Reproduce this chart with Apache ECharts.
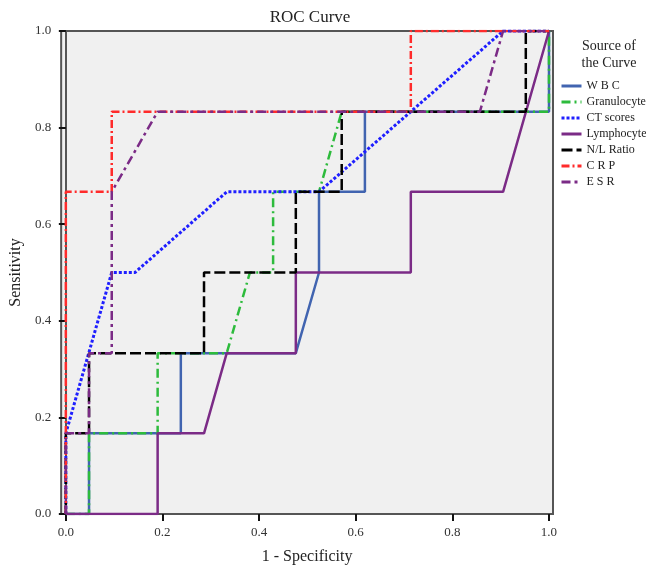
<!DOCTYPE html>
<html>
<head>
<meta charset="utf-8">
<script src="https://cdn.jsdelivr.net/npm/echarts@6/dist/echarts.min.js"></script>
<style>
  html, body { margin: 0; padding: 0; background: #ffffff; }
  #chart { width: 646px; height: 570px; }
</style>
</head>
<body>
<div id="chart"></div>
<script>
// points of each ROC curve, [1 - specificity, sensitivity]
const wbc = [[0,0],[0.048,0],[0.048,0.167],[0.238,0.167],[0.238,0.333],[0.476,0.333],[0.524,0.5],[0.524,0.667],[0.619,0.667],[0.619,0.833],[1,0.833],[1,1]];
const granulocyte = [[0,0],[0.048,0],[0.048,0.167],[0.190,0.167],[0.190,0.333],[0.333,0.333],[0.381,0.5],[0.429,0.5],[0.429,0.667],[0.524,0.667],[0.571,0.833],[1,0.833],[1,1]];
const ctScores = [[0,0],[0,0.167],[0.095,0.5],[0.143,0.5],[0.333,0.667],[0.524,0.667],[0.905,1],[1,1]];
const lymphocyte = [[0,0],[0.190,0],[0.190,0.167],[0.286,0.167],[0.333,0.333],[0.476,0.333],[0.476,0.5],[0.714,0.5],[0.714,0.667],[0.905,0.667],[1,1]];
const nlRatio = [[0,0],[0,0.167],[0.048,0.167],[0.048,0.333],[0.286,0.333],[0.286,0.5],[0.476,0.5],[0.476,0.667],[0.571,0.667],[0.571,0.833],[0.952,0.833],[0.952,1],[1,1]];
const crp = [[0,0],[0,0.667],[0.095,0.667],[0.095,0.833],[0.714,0.833],[0.714,1],[1,1]];
const esr = [[0,0],[0,0.167],[0.048,0.167],[0.048,0.333],[0.095,0.333],[0.095,0.667],[0.190,0.833],[0.857,0.833],[0.905,1],[1,1]];

const seriesNames = ['W B C', 'Granulocyte', 'CT scores', 'Lymphocyte', 'N/L Ratio', 'C R P', 'E S R'];
const tickValues = [0, 0.2, 0.4, 0.6, 0.8, 1.0];

const serif = '"Liberation Serif", "DejaVu Serif", serif';

function line(name, data, color, type, width) {
  return {
    name: name,
    type: 'line',
    data: data,
    showSymbol: false,
    symbol: 'none',
    animation: false,
    lineStyle: { color: color, type: type, width: width, cap: 'butt' },
    itemStyle: { color: color }
  };
}

const chart = echarts.init(document.getElementById('chart'));
chart.setOption({
  backgroundColor: '#ffffff',
  title: [
    {
      text: 'ROC Curve',
      left: 305, top: 4, textAlign: 'center',
      textStyle: { fontFamily: serif, fontSize: 17, fontWeight: 'normal', color: '#222' }
    },
    {
      text: 'Source of\nthe Curve',
      left: 604, top: 33, textAlign: 'center',
      textStyle: { fontFamily: serif, fontSize: 14, fontWeight: 'normal', color: '#222', lineHeight: 17 }
    }
  ],
  legend: {
    orient: 'vertical',
    left: 555, top: 75,
    itemWidth: 20, itemHeight: 10, itemGap: 4,
    data: seriesNames,
    itemStyle: { opacity: 0 },
    lineStyle: { width: 3 },
    textStyle: { fontFamily: serif, fontSize: 12, color: '#222', lineHeight: 12 }
  },
  grid: {
    left: 58, right: 93, top: 31, bottom: 53,
    show: true, backgroundColor: '#f0f0f0', borderColor: '#555', borderWidth: 2
  },
  xAxis: {
    type: 'value', min: -0.0097, max: 1.0083,
    name: '1 - Specificity', nameLocation: 'middle', nameGap: 35,
    nameTextStyle: { fontFamily: serif, fontSize: 16, color: '#222' },
    axisLine: { show: true, lineStyle: { color: '#555', width: 2 } },
    axisTick: { show: true, length: 7, customValues: tickValues, lineStyle: { color: '#111', width: 2 } },
    axisLabel: { customValues: tickValues, formatter: v => v.toFixed(1), fontFamily: serif, fontSize: 13, color: '#333', margin: 12 },
    splitLine: { show: false }
  },
  yAxis: {
    type: 'value', min: 0, max: 1,
    name: 'Sensitivity', nameLocation: 'middle', nameGap: 36, nameRotate: 90,
    nameTextStyle: { fontFamily: serif, fontSize: 16, color: '#222' },
    axisLine: { show: true, lineStyle: { color: '#555', width: 2 } },
    axisTick: { show: true, length: 7, customValues: tickValues, lineStyle: { color: '#111', width: 2 } },
    axisLabel: { customValues: tickValues, formatter: v => v.toFixed(1), fontFamily: serif, fontSize: 13, color: '#333', margin: 10 },
    splitLine: { show: false }
  },
  series: [
    line(seriesNames[0], wbc, '#4164b0', 'solid', 2.5),
    line(seriesNames[1], granulocyte, '#2dbb3c', [9, 4, 2, 4], 2.5),
    line(seriesNames[2], ctScores, '#1f1fff', [3, 2], 3),
    line(seriesNames[3], lymphocyte, '#7b2b86', 'solid', 2.5),
    line(seriesNames[4], nlRatio, '#000000', [11, 4], 2.5),
    line(seriesNames[5], crp, '#ff2b2b', [8, 3, 2, 3], 2.5),
    line(seriesNames[6], esr, '#7b2b86', [9, 4, 3, 4], 2.5)
  ]
});
</script>
</body>
</html>
